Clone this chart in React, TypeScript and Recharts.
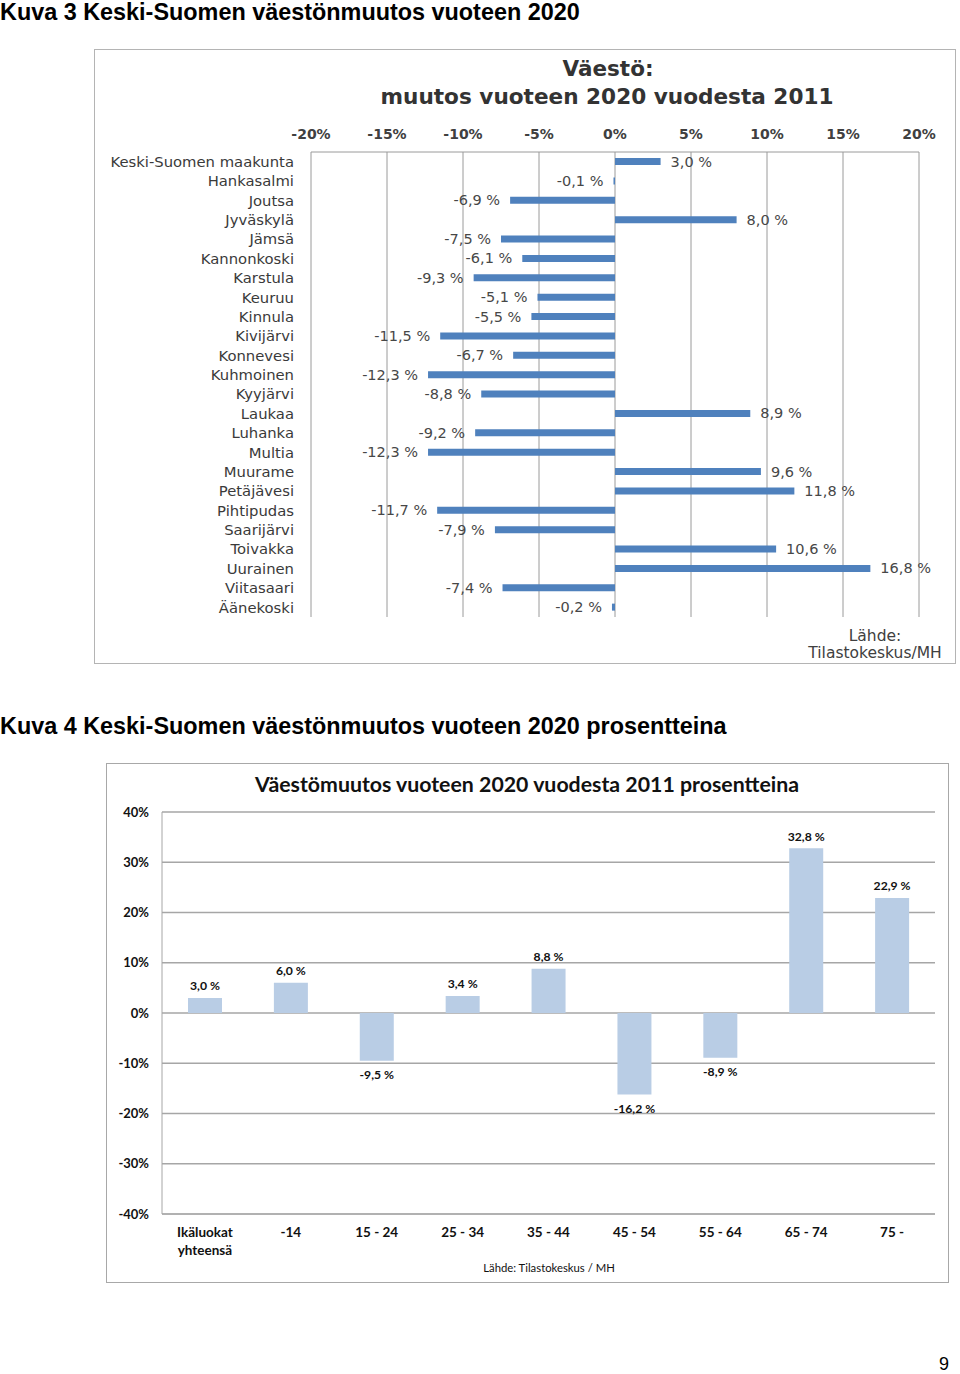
import React from "react";
import {
  BarChart,
  Bar,
  XAxis,
  YAxis,
  CartesianGrid,
  LabelList,
} from "recharts";

// ---------- Data: Kuva 3 ----------
const municipalities = [
  "Keski-Suomen maakunta",
  "Hankasalmi",
  "Joutsa",
  "Jyväskylä",
  "Jämsä",
  "Kannonkoski",
  "Karstula",
  "Keuruu",
  "Kinnula",
  "Kivijärvi",
  "Konnevesi",
  "Kuhmoinen",
  "Kyyjärvi",
  "Laukaa",
  "Luhanka",
  "Multia",
  "Muurame",
  "Petäjävesi",
  "Pihtipudas",
  "Saarijärvi",
  "Toivakka",
  "Uurainen",
  "Viitasaari",
  "Äänekoski",
];
const municipalChange = [
  3.0, -0.1, -6.9, 8.0, -7.5, -6.1, -9.3, -5.1, -5.5, -11.5, -6.7, -12.3, -8.8,
  8.9, -9.2, -12.3, 9.6, 11.8, -11.7, -7.9, 10.6, 16.8, -7.4, -0.2,
];
const municipalTicks = [-20, -15, -10, -5, 0, 5, 10, 15, 20];

// ---------- Data: Kuva 4 ----------
const ageGroups = [
  "Ikäluokat\nyhteensä",
  "-14",
  "15 - 24",
  "25 - 34",
  "35 - 44",
  "45 - 54",
  "55 - 64",
  "65 - 74",
  "75 -",
];
const ageChange = [3.0, 6.0, -9.5, 3.4, 8.8, -16.2, -8.9, 32.8, 22.9];
const ageTicks = [-40, -30, -20, -10, 0, 10, 20, 30, 40];

const municipalData = municipalities.map((name, i) => ({
  name,
  value: municipalChange[i],
}));
const ageData = ageGroups.map((name, i) => ({ name, value: ageChange[i] }));

const fmt = (v: number) => v.toFixed(1).replace(".", ",") + " %";

const F1 = "'DejaVu Sans', Verdana, sans-serif";
const F2 = "Lato, 'Open Sans', sans-serif";
const FH = "'Liberation Sans', Arial, sans-serif";

const MunicipalLabel = (props: any) => {
  const { x, y, width, height, value } = props;
  const x0 = Number(x);
  const w = Number(width);
  const left = Math.min(x0, x0 + w);
  const right = Math.max(x0, x0 + w);
  const cy = Number(y) + Number(height) / 2;
  const neg = Number(value) < 0;
  return (
    <text
      x={neg ? left - 10 : right + 10}
      y={cy}
      textAnchor={neg ? "end" : "start"}
      dominantBaseline="central"
      fontFamily={F1}
      fontSize={14.5}
      fill="#474747"
    >
      {fmt(Number(value))}
    </text>
  );
};

const AgeLabel = (props: any) => {
  const { x, y, width, height, value } = props;
  const y0 = Number(y);
  const h = Number(height);
  const top = Math.min(y0, y0 + h);
  const bottom = Math.max(y0, y0 + h);
  const cx = Number(x) + Number(width) / 2;
  const neg = Number(value) < 0;
  return (
    <text
      x={cx}
      y={neg ? bottom + 14 : top - 12}
      textAnchor="middle"
      dominantBaseline="central"
      fontFamily={F2}
      fontSize={12.2}
      fontWeight={700}
      fill="#111"
    >
      {fmt(Number(value))}
    </text>
  );
};

const AgeTick = (props: any) => {
  const { x, y, payload } = props;
  const lines = String(payload.value).split("\n");
  return (
    <g>
      <text
        x={x}
        y={y}
        textAnchor="middle"
        fontFamily={F2}
        fontSize={13.5}
        fontWeight={700}
        fill="#111"
      >
        {lines.map((l, i) => (
          <tspan key={i} x={x} dy={i === 0 ? 23 : 18}>
            {l}
          </tspan>
        ))}
      </text>
    </g>
  );
};

export default function App() {
  return (
    <div
      style={{
        position: "absolute",
        left: 0,
        top: 0,
        width: 960,
        height: 1374,
        background: "#fff",
        overflow: "hidden",
      }}
    >
      {/* Headings and free text */}
      <svg
        width={960}
        height={1374}
        style={{ position: "absolute", left: 0, top: 0 }}
      >
        <text x={0} y={20} fontFamily={FH} fontWeight={700} fontSize={23.4} fill="#000">
          Kuva 3 Keski-Suomen väestönmuutos vuoteen 2020
        </text>
        <text x={0} y={734} fontFamily={FH} fontWeight={700} fontSize={23.4} fill="#000">
          Kuva 4 Keski-Suomen väestönmuutos vuoteen 2020 prosentteina
        </text>
        <text x={944} y={1370} textAnchor="middle" fontFamily={FH} fontSize={18} fill="#000">
          9
        </text>
      </svg>

      {/* Chart 1 box */}
      <div
        style={{
          position: "absolute",
          left: 94,
          top: 49,
          width: 860,
          height: 613,
          border: "1px solid #b4b4b4",
        }}
      />
      <div style={{ position: "absolute", left: 94, top: 49 }}>
        <BarChart
          width={862}
          height={615}
          data={municipalData}
          layout="vertical"
          margin={{ top: 63, right: 37, bottom: 47, left: 17 }}
          barCategoryGap={0}
        >
          <CartesianGrid horizontal={false} stroke="#9a9a9a" />
          <XAxis
            type="number"
            orientation="top"
            domain={[-20, 20]}
            ticks={municipalTicks}
            tickFormatter={(v: number) => `${v}%`}
            height={40}
            tickLine={false}
            tickSize={0}
            tickMargin={13}
            axisLine={{ stroke: "#9a9a9a" }}
            tick={{ fontFamily: F1, fontSize: 14, fontWeight: 700, fill: "#404040" }}
            interval={0}
          />
          <YAxis
            type="category"
            dataKey="name"
            width={200}
            axisLine={false}
            tickLine={false}
            tickSize={0}
            tickMargin={17}
            interval={0}
            tick={{ fontFamily: F1, fontSize: 14.8, fill: "#3a3a3a" }}
          />
          <Bar dataKey="value" fill="#4f81bd" barSize={7} isAnimationActive={false}>
            <LabelList dataKey="value" content={MunicipalLabel} />
          </Bar>
          <text
            x={514}
            y={27}
            textAnchor="middle"
            fontFamily={F1}
            fontWeight={700}
            fontSize={21.5}
            fill="#333"
          >
            Väestö:
          </text>
          <text
            x={513}
            y={55}
            textAnchor="middle"
            fontFamily={F1}
            fontWeight={700}
            fontSize={21.6}
            fill="#333"
          >
            muutos vuoteen 2020 vuodesta 2011
          </text>
          <text x={781} y={592} textAnchor="middle" fontFamily={F1} fontSize={15.5} fill="#404040">
            Lähde:
          </text>
          <text x={781} y={609} textAnchor="middle" fontFamily={F1} fontSize={15.5} fill="#404040">
            Tilastokeskus/MH
          </text>
        </BarChart>
      </div>

      {/* Chart 2 box */}
      <div
        style={{
          position: "absolute",
          left: 106,
          top: 763,
          width: 841,
          height: 518,
          border: "1px solid #a8a8a8",
        }}
      />
      <div style={{ position: "absolute", left: 106, top: 763 }}>
        <BarChart
          width={843}
          height={520}
          data={ageData}
          margin={{ top: 49, right: 14, bottom: 29, left: 10 }}
          barCategoryGap="30%"
        >
          <CartesianGrid vertical={false} stroke="#a6a6a6" strokeWidth={1.3} />
          <XAxis
            dataKey="name"
            height={40}
            tickLine={false}
            tickSize={0}
            tickMargin={0}
            axisLine={{ stroke: "#a6a6a6" }}
            interval={0}
            tick={<AgeTick />}
          />
          <YAxis
            type="number"
            domain={[-40, 40]}
            ticks={ageTicks}
            tickFormatter={(v: number) => `${v}%`}
            width={46}
            tickLine={false}
            tickSize={0}
            tickMargin={13}
            axisLine={{ stroke: "#a6a6a6" }}
            interval={0}
            tick={{ fontFamily: F2, fontSize: 13, fontWeight: 700, fill: "#111" }}
          />
          <Bar dataKey="value" fill="#b9cde5" barSize={34} isAnimationActive={false}>
            <LabelList dataKey="value" content={AgeLabel} />
          </Bar>
          <text
            x={421}
            y={29}
            textAnchor="middle"
            fontFamily={F2}
            fontWeight={700}
            fontSize={21.3}
            fill="#111"
          >
            Väestömuutos vuoteen 2020 vuodesta 2011 prosentteina
          </text>
          <text x={443} y={509} textAnchor="middle" fontFamily={F2} fontSize={11.3} fill="#111">
            Lähde: Tilastokeskus / MH
          </text>
        </BarChart>
      </div>
    </div>
  );
}
